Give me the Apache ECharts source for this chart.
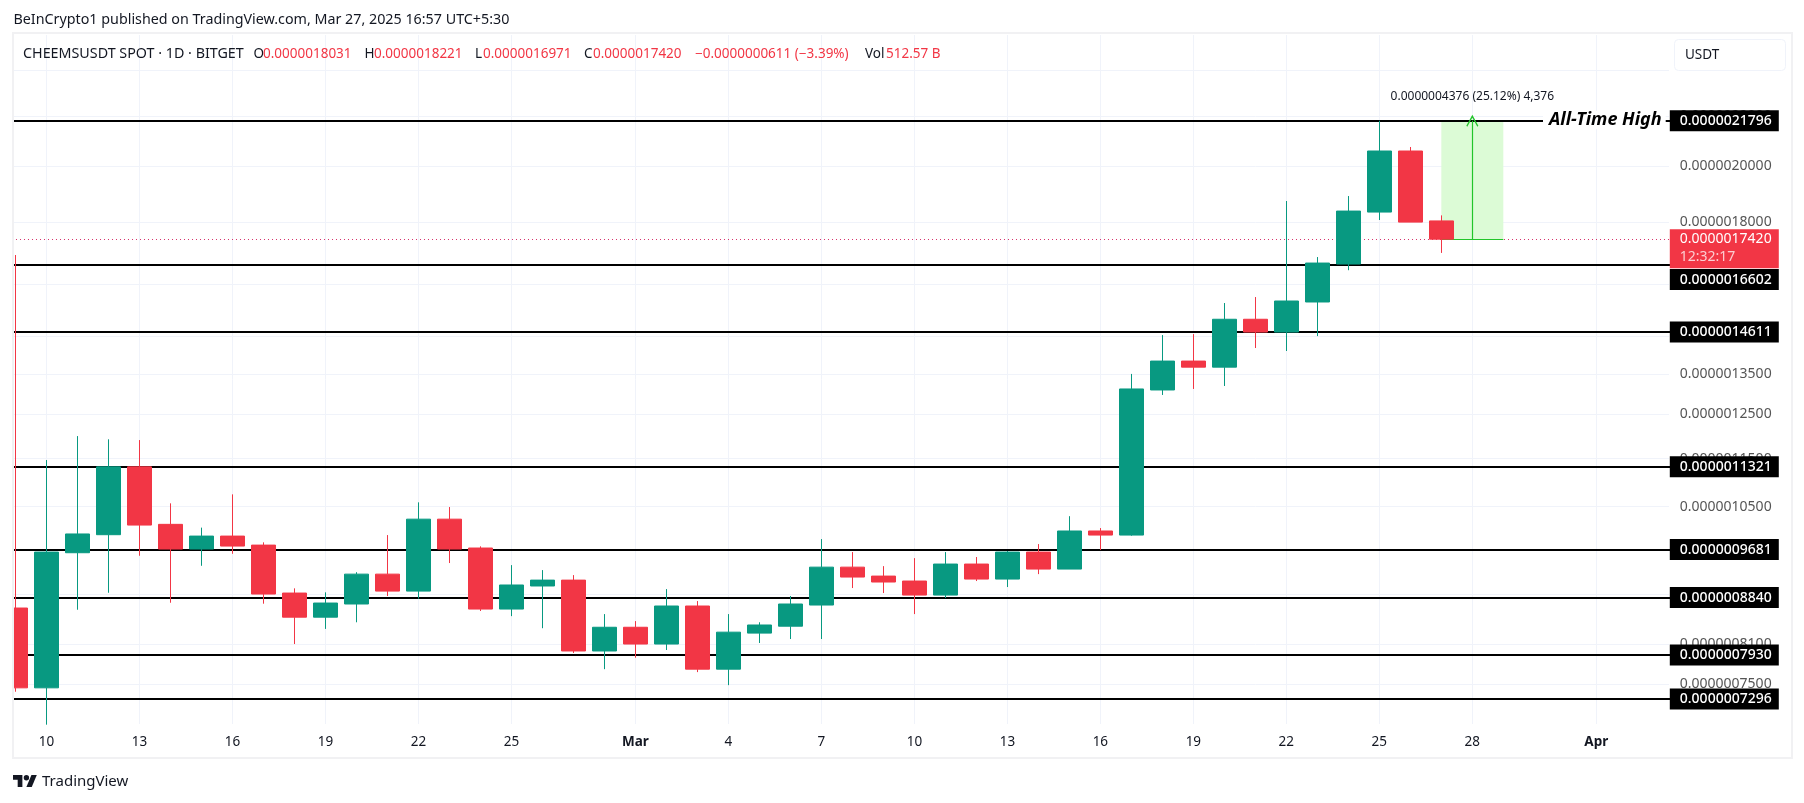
<!DOCTYPE html>
<html>
<head>
<meta charset="utf-8">
<style>html,body{margin:0;padding:0;background:#fff}#c{width:1804px;height:803px}</style>
<script src="https://cdn.jsdelivr.net/npm/echarts@6/dist/echarts.min.js"></script>
</head>
<body>
<div id="c"></div>
<script>
// Prices are in units of 1e-10 USDT
const UNIT = 1e-10;
const dates = ['Feb 9','Feb 10','Feb 11','Feb 12','Feb 13','Feb 14','Feb 15','Feb 16','Feb 17','Feb 18','Feb 19','Feb 20','Feb 21','Feb 22','Feb 23','Feb 24','Feb 25','Feb 26','Feb 27','Feb 28',
 'Mar 1','Mar 2','Mar 3','Mar 4','Mar 5','Mar 6','Mar 7','Mar 8','Mar 9','Mar 10','Mar 11','Mar 12','Mar 13','Mar 14','Mar 15','Mar 16','Mar 17','Mar 18','Mar 19','Mar 20','Mar 21','Mar 22','Mar 23','Mar 24','Mar 25','Mar 26','Mar 27'];
const futureDates = ['Mar 28','Mar 29','Mar 30','Mar 31','Apr 1','Apr 2','Apr 3'];
const opens  = [8667,7452,9623,9957,11321,10154,9690,9931,9763,8916,8518,8733,9241,8949,10254,9709,8650,9036,9137,7990,8357,8096,8700,7720,8265,8374,8716,9364,9207,9121,8882,9419,9155,9635,9330,10027,9950,13094,13830,13672,14969,14611,15466,16618,18335,20581,18031];
const closes = [7452,9635,9971,11321,10140,9690,9931,9745,8899,8518,8749,9241,8949,10254,9690,8650,9053,9137,7990,8357,8096,8700,7720,8280,8393,8733,9364,9190,9104,8882,9419,9155,9635,9330,10027,9950,13119,13830,13672,14969,14611,15495,16649,18370,20581,17990,17420];
const lows   = [7397,6950,8639,8921,9568,8754,9388,9604,8738,8096,8331,8436,8866,8821,9437,8618,8535,8342,7960,7720,7889,8005,7677,7490,8112,8173,8173,9001,8916,8568,8832,9121,9018,9241,9330,9672,9937,12971,13119,13193,14176,14096,14500,16425,18062,17990,16971];
const highs  = [16904,11468,12000,11927,11910,10566,10091,10747,9814,8996,8928,9275,9950,10586,10492,9740,9400,9312,9224,8568,8455,8983,8782,8568,8436,8866,9875,9635,9382,9525,9635,9545,9654,9782,10312,10083,13498,14528,14555,15436,15612,18723,16839,18900,21796,20738,18221];
const keyLevels = [16602,14611,11321,9681,8840,7930,7296];
const allTimeHigh = 21796;
const lastPrice = 17420;
const gridPrices = [24000,22000,20000,18000,16000,14500,13500,12500,11500,10500,8900,8100,7500];
const labelPrices = [22000,20000,18000,14500,13500,12500,11500,10500,8100,7500];
const tickLabels = {'Feb 10':'10','Feb 13':'13','Feb 16':'16','Feb 19':'19','Feb 22':'22','Feb 25':'25','Mar 1':'Mar','Mar 4':'4','Mar 7':'7','Mar 10':'10','Mar 13':'13','Mar 16':'16','Mar 19':'19','Mar 22':'22','Mar 25':'25','Mar 28':'28','Apr 1':'Apr'};
const titleText = 'BeInCrypto1 published on TradingView.com, Mar 27, 2025 16:57 UTC+5:30';
const symbolText = 'CHEEMSUSDT SPOT · 1D · BITGET';
const measureText = '0.0000004376 (25.12%) 4,376';
const countdown = '12:32:17';

const FONT = '"Noto Sans", sans-serif';
const fmt = v => (v * UNIT).toFixed(10);
const axisDates = dates.concat(futureDates);
const ohlc = dates.map((d, i) => [opens[i], closes[i], lows[i], highs[i]]);
const GREEN = '#089981', RED = '#F23645';

const levelLabel = (offsetY) => ({
  show: true, position: 'end', formatter: p => fmt(p.value),
  color: '#fff', backgroundColor: '#000', fontFamily: FONT, fontSize: 14, fontWeight: 500,
  width: 92, lineHeight: 17, padding: [2, 7, 2, 10], offset: [-9, offsetY], align: 'left', verticalAlign: 'middle'
});

const chart = echarts.init(document.getElementById('c'));
const headerTexts = [
  [253.5, 'O', '#131722'], [263, '0.0000018031', RED], [364.5, 'H', '#131722'], [374, '0.0000018221', RED],
  [475, 'L', '#131722'], [483, '0.0000016971', RED], [584, 'C', '#131722'], [593, '0.0000017420', RED],
  [695, '−0.0000000611 (−3.39%)', RED], [865, 'Vol', '#131722'], [886, '512.57 B', RED]
];
const logoStem = [[14,22],[7,22],[7,11],[0,11],[0,4],[14,4]];
const logoSlash = [[28,22],[20,22],[27.5,4],[35.5,4]];
const logoPt = p => [13 + p[0] * 0.67, 772.3 + p[1] * 0.67];
chart.setOption({
  animation: false,
  backgroundColor: '#fff',
  grid: { left: -0.2, top: 35, width: 1674, height: 689, containLabel: false },
  xAxis: {
    type: 'category', data: axisDates, boundaryGap: true,
    axisLine: { show: false }, axisTick: { show: false },
    axisLabel: {
      interval: (i, v) => v in tickLabels, margin: 11, fontFamily: FONT, fontSize: 13.5, color: '#131722',
      formatter: v => { const t = tickLabels[v] || ''; return /[A-Z]/.test(t) ? '{b|' + t + '}' : t; },
      rich: { b: { fontWeight: 'bold', fontFamily: FONT, fontSize: 13.5, color: '#131722' } }
    },
    splitLine: { show: true, interval: (i, v) => v in tickLabels, alignWithLabel: true, lineStyle: { color: '#f0f3fa', width: 1 } }
  },
  yAxis: {
    type: 'log', logBase: 10, position: 'right', min: 6959, max: 25634,
    axisLine: { show: false }, axisTick: { show: false, customValues: gridPrices },
    axisLabel: { customValues: labelPrices, margin: 6, formatter: v => fmt(v), fontFamily: FONT, fontSize: 14, color: '#555' },
    splitLine: { show: true, lineStyle: { color: '#f0f3fa', width: 1 } }, minorSplitLine: { show: false }
  },
  series: [
    {
      type: 'line', name: 'levels', data: [], z: 3, silent: true, symbol: 'none',
      markLine: {
        silent: true, symbol: 'none', animation: false,
        lineStyle: { color: '#000', width: 2.2, type: 'solid' },
        data: keyLevels.concat([allTimeHigh]).map(v => ({ yAxis: v, label: levelLabel(v === 16602 ? 15 : 0) }))
      },
      markArea: {
        silent: true, itemStyle: { color: '#dcfbd6' },
        data: [[{ xAxis: 'Mar 27', yAxis: allTimeHigh }, { xAxis: 'Mar 29', yAxis: lastPrice }]]
      }
    },
    {
      type: 'line', name: 'last', data: [], z: 4, silent: true, symbol: 'none',
      markLine: {
        silent: true, symbol: 'none',
        data: [
          { yAxis: lastPrice, lineStyle: { color: '#d6336c', width: 1, type: [1, 3] },
            label: { show: true, position: 'end', formatter: p => '{a|' + fmt(p.value) + '}\n{t|' + countdown + '}',
              backgroundColor: RED, padding: [1, 7, 2, 10], offset: [-9, 9.5], align: 'left', verticalAlign: 'middle',
              rich: { a: { color: '#fff', fontFamily: FONT, fontSize: 14, lineHeight: 18, width: 92 }, t: { color: 'rgba(255,255,255,0.75)', fontFamily: FONT, fontSize: 14, lineHeight: 18, width: 92 } } } },
          [ { xAxis: 'Mar 27', yAxis: lastPrice, lineStyle: { color: '#22c52a', width: 1.2, type: 'solid' }, label: { show: false } }, { xAxis: 'Mar 29', yAxis: lastPrice } ],
          [ { xAxis: 'Mar 28', yAxis: lastPrice, symbol: 'none', lineStyle: { color: '#22c52a', width: 1.2, type: 'solid' },
              label: { show: true, position: 'end', distance: 18, formatter: measureText, color: '#131722', fontFamily: FONT, fontSize: 12 } },
            { xAxis: 'Mar 28', yAxis: allTimeHigh, symbol: 'path://M0,10 L5,0 L10,10 L9.2,10.8 L5,2.8 L0.8,10.8 Z', symbolSize: 12 } ]
        ]
      }
    },
    {
      type: 'candlestick', name: 'CHEEMSUSDT', data: ohlc, z: 5, barWidth: 25, clip: true,
      itemStyle: { color: GREEN, color0: RED, borderColor: GREEN, borderColor0: RED, borderWidth: 1 }
    }
  ],
  graphic: [
    { type: 'rect', z: 1, shape: { x: 1669, y: 34, width: 5, height: 690 }, style: { fill: '#fff' }, silent: true },
    { type: 'rect', z: 50, shape: { x: 0, y: 0, width: 13, height: 803 }, style: { fill: '#fff' }, silent: true },
    { type: 'rect', z: 51, shape: { x: 13, y: 33, width: 1779, height: 725 }, style: { fill: 'none', stroke: '#f1f1f3', lineWidth: 2 }, silent: true },
    { type: 'text', z: 60, x: 13.5, y: 20, style: { text: titleText, font: '14.3px ' + FONT, fill: '#131722', verticalAlign: 'middle' } },
    { type: 'text', z: 60, x: 23, y: 54, style: { text: symbolText, font: '14.3px ' + FONT, fill: '#131722', verticalAlign: 'middle' } },
    ...headerTexts.map(h => ({ type: 'text', z: 60, x: h[0], y: 54, style: { text: h[1], font: '13.5px ' + FONT, fill: h[2], verticalAlign: 'middle' } })),
    { type: 'rect', z: 60, shape: { x: 1674.5, y: 39.5, width: 111, height: 31, r: 4 }, style: { fill: '#fff', stroke: '#f0f3fa', lineWidth: 1 }, silent: true },
    { type: 'text', z: 61, x: 1685, y: 55, style: { text: 'USDT', font: '13.5px ' + FONT, fill: '#131722', verticalAlign: 'middle' } },
    { type: 'text', z: 60, x: 1543, y: 120, style: { text: 'All-Time High', font: 'italic bold 18px ' + FONT, fill: '#000', backgroundColor: '#fff', verticalAlign: 'middle', padding: [0, 4, 0, 6] } },
    { type: 'polygon', z: 60, shape: { points: logoStem.map(logoPt) }, style: { fill: '#131722' } },
    { type: 'polygon', z: 60, shape: { points: logoSlash.map(logoPt) }, style: { fill: '#131722' } },
    { type: 'circle', z: 60, shape: { cx: 26.4, cy: 777.7, r: 2.7 }, style: { fill: '#131722' } },
    { type: 'text', z: 60, x: 42, y: 781.5, style: { text: 'TradingView', font: '15px ' + FONT, fill: '#131722', verticalAlign: 'middle' } }
  ]
});
</script>
</body>
</html>
